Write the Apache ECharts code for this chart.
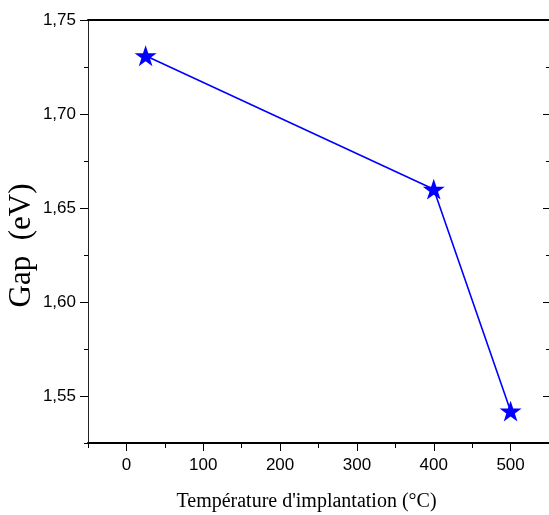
<!DOCTYPE html>
<html><head><meta charset="utf-8">
<script src="https://cdn.jsdelivr.net/npm/echarts@6/dist/echarts.min.js"></script>
<style>html,body{margin:0;padding:0;background:#fff}#c{width:549px;height:515px}</style>
</head><body><div id="c"></div>
<script>
const temperatures = [25, 400, 500];
const gaps = [1.731, 1.660, 1.542];
const xMajorTicks = [0, 100, 200, 300, 400, 500];
const xMinorTicks = [-50, 50, 150, 250, 350, 450, 550];
const yMajorTicks = [1.55, 1.60, 1.65, 1.70, 1.75];
const yMinorTicks = [1.525, 1.575, 1.625, 1.675, 1.725];

const chart = echarts.init(document.getElementById('c'));
const xRange = {min: -50, max: 550};
const yRange = {min: 1.525, max: 1.75};
const fmtY = v => v.toFixed(2).replace('.', ',');
const noLine = {show: false, onZero: false};
chart.setOption({
  animation: false,
  grid: {left: 88, right: 0, top: 20, bottom: 72, containLabel: false, outerBoundsMode: 'none'},
  xAxis: [
    {type: 'value', position: 'bottom', ...xRange,
     name: "Température d'implantation (°C)", nameLocation: 'middle', nameGap: 49,
     nameTextStyle: {fontFamily: 'Liberation Serif', fontSize: 20, color: '#000', padding: [0, 24, 0, 0]},
     axisLine: {show: true, onZero: false, lineStyle: {color: '#000', width: 2}},
     axisTick: {show: true, inside: false, length: 8, customValues: xMajorTicks, lineStyle: {color: '#000', width: 1}},
     axisLabel: {customValues: xMajorTicks, fontFamily: 'Liberation Sans', fontSize: 17, color: '#000', margin: 14},
     splitLine: {show: false}},
    {type: 'value', position: 'bottom', ...xRange,
     axisLine: noLine,
     axisTick: {show: true, inside: false, length: 5, customValues: xMinorTicks, lineStyle: {color: '#000', width: 1}},
     axisLabel: {show: false}, splitLine: {show: false}},
    {type: 'value', position: 'top', ...xRange,
     axisLine: {show: true, onZero: false, lineStyle: {color: '#000', width: 2}},
     axisTick: {show: false}, axisLabel: {show: false}, splitLine: {show: false}}
  ],
  yAxis: [
    {type: 'value', position: 'left', ...yRange,
     name: 'Gap\u2002(eV)', nameLocation: 'middle', nameGap: 51, nameMoveOverlap: false,
     nameTextStyle: {fontFamily: 'Liberation Serif', fontSize: 31, color: '#000', padding: [0, 28, 0, 0]},
     axisLine: {show: true, onZero: false, lineStyle: {color: '#222', width: 1}},
     axisTick: {show: true, inside: false, length: 8, customValues: yMajorTicks, lineStyle: {color: '#000', width: 1}},
     axisLabel: {customValues: yMajorTicks, formatter: fmtY, fontFamily: 'Liberation Sans', fontSize: 17, color: '#000', margin: 12},
     splitLine: {show: false}},
    {type: 'value', position: 'left', ...yRange,
     axisLine: noLine,
     axisTick: {show: true, inside: false, length: 4, customValues: yMinorTicks, lineStyle: {color: '#000', width: 1}},
     axisLabel: {show: false}, splitLine: {show: false}},
    {type: 'value', position: 'right', ...yRange,
     axisLine: noLine,
     axisTick: {show: true, inside: true, length: 6, customValues: yMajorTicks, lineStyle: {color: '#000', width: 1}},
     axisLabel: {show: false}, splitLine: {show: false}},
    {type: 'value', position: 'right', ...yRange,
     axisLine: noLine,
     axisTick: {show: true, inside: true, length: 3, customValues: yMinorTicks, lineStyle: {color: '#000', width: 1}},
     axisLabel: {show: false}, splitLine: {show: false}}
  ],
  series: [{
    type: 'line', xAxisIndex: 0, yAxisIndex: 0,
    data: temperatures.map((t, i) => [t, gaps[i]]),
    symbol: 'path://M50,0 L61.8,35.3 L99,35.3 L69,57.3 L80.5,92.7 L50,70.8 L19.5,92.7 L31,57.3 L1,35.3 L38.2,35.3 Z',
    symbolSize: 22, symbolKeepAspect: true,
    itemStyle: {color: '#0000ff'},
    lineStyle: {color: '#0000ff', width: 1.6},
    clip: false
  }]
});
</script></body></html>
